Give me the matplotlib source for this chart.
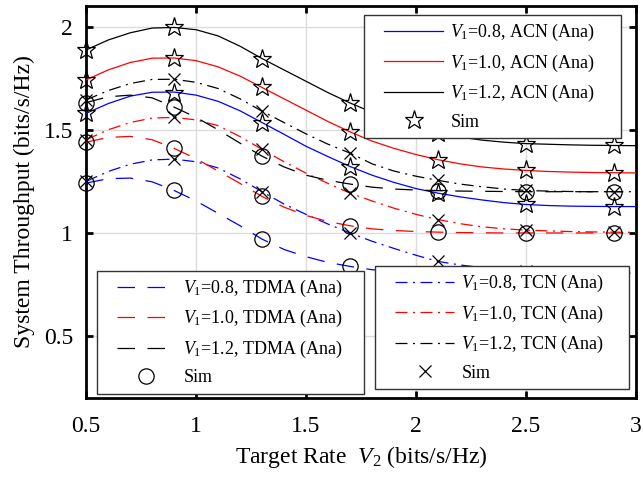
import matplotlib
matplotlib.use("Agg")
import matplotlib.pyplot as plt
from matplotlib.lines import Line2D
from matplotlib.legend_handler import HandlerLine2D

plt.rcParams['font.family'] = ['Liberation Serif', 'DejaVu Serif']
plt.rcParams['mathtext.fontset'] = 'custom'
plt.rcParams['mathtext.rm'] = 'Liberation Serif'
plt.rcParams['mathtext.it'] = 'Liberation Serif:italic'

# analytic curves
x_ana = [0.5, 0.6, 0.7, 0.8, 0.9, 1.0, 1.1, 1.2, 1.3, 1.4, 1.5, 1.6, 1.7,
         1.8, 1.9, 2.0, 2.1, 2.2, 2.3, 2.4, 2.5, 2.6, 2.7, 2.8, 2.9, 3.0]
acn_08 = [1.58, 1.627, 1.663, 1.682, 1.683, 1.668, 1.638, 1.592, 1.535, 1.478, 1.42, 1.37, 1.322,
          1.28, 1.245, 1.215, 1.193, 1.175, 1.16, 1.147, 1.138, 1.133, 1.13, 1.129, 1.128, 1.128]
acn_10 = [1.742, 1.79, 1.826, 1.847, 1.848, 1.835, 1.805, 1.76, 1.705, 1.65, 1.595, 1.54, 1.49,
          1.445, 1.41, 1.38, 1.355, 1.335, 1.32, 1.31, 1.303, 1.298, 1.295, 1.293, 1.292, 1.291]
acn_12 = [1.887, 1.935, 1.97, 1.993, 1.996, 1.985, 1.955, 1.905, 1.845, 1.79, 1.735, 1.68, 1.63,
          1.585, 1.545, 1.51, 1.485, 1.465, 1.45, 1.44, 1.433, 1.43, 1.427, 1.425, 1.424, 1.423]
tdma_08 = [1.242, 1.263, 1.266, 1.248, 1.206, 1.155, 1.095, 1.035, 0.97, 0.92, 0.885, 0.857, 0.838,
           0.822, 0.812, 0.806, 0.803, 0.801, 0.8, 0.8, 0.8, 0.8, 0.8, 0.8, 0.8, 0.8]
tdma_10 = [1.44, 1.463, 1.468, 1.452, 1.41, 1.36, 1.30, 1.24, 1.177, 1.125, 1.085, 1.055, 1.035,
           1.02, 1.012, 1.007, 1.004, 1.002, 1.001, 1.0, 1.0, 1.0, 1.0, 1.0, 1.0, 1.0]
tdma_12 = [1.632, 1.66, 1.668, 1.655, 1.61, 1.56, 1.50, 1.435, 1.372, 1.32, 1.28, 1.255, 1.237,
           1.222, 1.213, 1.208, 1.205, 1.203, 1.202, 1.201, 1.2, 1.2, 1.2, 1.2, 1.2, 1.2]
tcn_08 = [1.25, 1.298, 1.333, 1.354, 1.358, 1.345, 1.315, 1.262, 1.20, 1.14, 1.09, 1.043, 1.0,
          0.96, 0.925, 0.892, 0.862, 0.845, 0.832, 0.823, 0.817, 0.812, 0.809, 0.807, 0.806, 0.805]
tcn_10 = [1.452, 1.50, 1.535, 1.557, 1.56, 1.548, 1.52, 1.467, 1.405, 1.345, 1.29, 1.24, 1.193,
          1.155, 1.12, 1.09, 1.065, 1.045, 1.03, 1.02, 1.014, 1.01, 1.007, 1.005, 1.004, 1.003]
tcn_12 = [1.645, 1.69, 1.724, 1.744, 1.745, 1.73, 1.70, 1.65, 1.59, 1.535, 1.48, 1.43, 1.387,
          1.335, 1.30, 1.275, 1.255, 1.237, 1.224, 1.213, 1.206, 1.203, 1.201, 1.2, 1.2, 1.2]

# simulation points
x_sim = [0.5, 0.9, 1.3, 1.7, 2.1, 2.5, 2.9]
sim_acn_08 = [1.58, 1.68, 1.535, 1.322, 1.193, 1.138, 1.128]
sim_acn_10 = [1.742, 1.848, 1.705, 1.49, 1.355, 1.303, 1.292]
sim_acn_12 = [1.887, 1.996, 1.845, 1.63, 1.485, 1.433, 1.424]
sim_tdma_08 = [1.242, 1.206, 0.97, 0.838, 0.803, 0.8, 0.8]
sim_tdma_10 = [1.44, 1.41, 1.177, 1.035, 1.004, 1.0, 1.0]
sim_tdma_12 = [1.632, 1.61, 1.372, 1.237, 1.205, 1.2, 1.2]
sim_tcn_08 = [1.25, 1.358, 1.20, 1.0, 0.862, 0.817, 0.806]
sim_tcn_10 = [1.452, 1.56, 1.405, 1.193, 1.065, 1.014, 1.004]
sim_tcn_12 = [1.645, 1.745, 1.59, 1.387, 1.255, 1.206, 1.2]

v1_labels = ['0.8', '1.0', '1.2']
colors = ['#0000ff', '#ff0000', '#000000']

fig = plt.figure(figsize=(6.43, 4.79), dpi=100)
ax = fig.add_axes([0.134, 0.169, 0.855, 0.8185])

dash_ls = (0, (14, 10))
dashdot_ls = (0, (9.6, 4.4, 1.6, 4.4))

acn = [acn_08, acn_10, acn_12]
tdma = [tdma_08, tdma_10, tdma_12]
tcn = [tcn_08, tcn_10, tcn_12]
s_acn = [sim_acn_08, sim_acn_10, sim_acn_12]
s_tdma = [sim_tdma_08, sim_tdma_10, sim_tdma_12]
s_tcn = [sim_tcn_08, sim_tcn_10, sim_tcn_12]

lw = 0.9
for i in range(3):
    ax.plot(x_ana, acn[i], color=colors[i], lw=lw, ls='-', zorder=3)
    ax.plot(x_ana, tdma[i], color=colors[i], lw=lw, ls=dash_ls, zorder=3)
    ax.plot(x_ana, tcn[i], color=colors[i], lw=lw, ls=dashdot_ls, zorder=3)
for i in range(3):
    ax.plot(x_sim, s_acn[i], ls='none', marker='*', ms=14, mfc='none', mec='k', mew=0.9, zorder=4, clip_on=False)
    ax.plot(x_sim, s_tdma[i], ls='none', marker='o', ms=11, mfc='none', mec='k', mew=0.9, zorder=4, clip_on=False)
    ax.plot(x_sim, s_tcn[i], ls='none', marker='x', ms=8.5, mfc='none', mec='k', mew=0.9, zorder=4, clip_on=False)

ax.set_xlim(0.5, 3.0)
ax.set_ylim(0.2, 2.1)
ax.set_xticks([0.5, 1, 1.5, 2, 2.5, 3])
ax.set_xticklabels(['0.5', '1', '1.5', '2', '2.5', '3'])
ax.set_yticks([0.5, 1, 1.5, 2])
ax.set_yticklabels(['0.5', '1', '1.5', '2'])
ax.grid(True, color='#dcdcdc', lw=1.0)
ax.set_axisbelow(True)
ax.tick_params(direction='in', length=5, width=2, top=True, right=True, labelsize=17, colors='k')
ax.tick_params(axis='x', pad=13)
ax.tick_params(axis='y', pad=9.5)
for sp in ax.spines.values():
    sp.set_linewidth(2.0)
ax.set_xlabel(r'Target Rate  $V_2$ (bits/s/Hz)', fontsize=17, labelpad=5)
ax.set_ylabel('System Throughput (bits/s/Hz)', fontsize=17, labelpad=6)


class PadHandler(HandlerLine2D):
    def __init__(self, pad, **kw):
        super().__init__(**kw)
        self.pad = pad

    def create_artists(self, legend, orig_handle, xdescent, ydescent, width, height, fontsize, trans):
        return super().create_artists(legend, orig_handle, xdescent - self.pad, ydescent,
                                      width - self.pad, height, fontsize, trans)


def make_legend(ls, marker, ms, kind, bbox):
    handles = []
    labels = []
    for i in range(3):
        handles.append(Line2D([], [], color=colors[i], lw=lw, ls=ls))
        labels.append(r'$V_1$=' + v1_labels[i] + ', ' + kind + ' (Ana)')
    handles.append(Line2D([], [], ls='none', marker=marker, ms=ms, mfc='none', mec='k', mew=0.9))
    labels.append('Sim')
    leg = ax.legend(handles, labels, loc='upper left', bbox_to_anchor=bbox, mode='expand',
                    fontsize=13, frameon=True, fancybox=False, framealpha=1,
                    edgecolor='#333333', handlelength=4.0, labelspacing=0.52,
                    borderpad=0.4, handletextpad=0.4, borderaxespad=0,
                    handler_map={Line2D: PadHandler(9.4)})
    leg.get_frame().set_linewidth(1.0)
    leg.set_zorder(10)
    return leg

l1 = make_legend('-', '*', 14, 'ACN', (0.505, 0.977, 0.467, 0))
ax.add_artist(l1)
l2 = make_legend(dash_ls, 'o', 11, 'TDMA', (0.019, 0.325, 0.487, 0))
ax.add_artist(l2)
l3 = make_legend(dashdot_ls, 'x', 8.5, 'TCN', (0.525, 0.337, 0.462, 0))

fig.savefig('out.png', dpi=100)
